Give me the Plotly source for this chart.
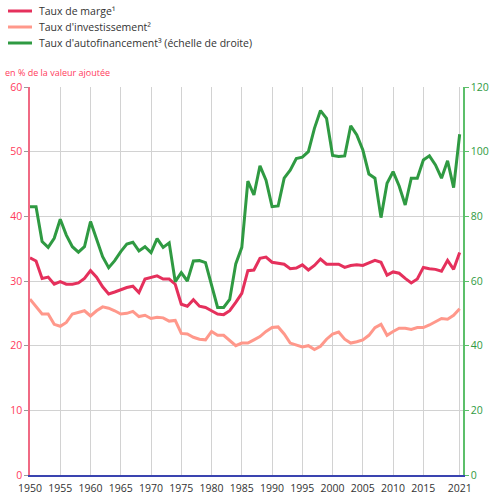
import plotly.graph_objects as go

years = list(range(1950, 2022))

taux_marge = [33.6, 33.1, 30.4, 30.6, 29.5, 29.9, 29.5, 29.5, 29.7, 30.4,
              31.6, 30.6, 29.1, 28.0, 28.3, 28.7, 29.0, 29.2, 28.2, 30.3,
              30.6, 30.8, 30.3, 30.3, 29.5, 26.4, 26.1, 27.1, 26.1, 25.9,
              25.4, 24.9, 24.8, 25.4, 26.7, 28.1, 31.6, 31.7, 33.5, 33.7,
              32.9, 32.7, 32.6, 31.9, 32.0, 32.5, 31.7, 32.4, 33.4, 32.6,
              32.6, 32.6, 32.1, 32.4, 32.5, 32.4, 32.8, 33.2, 32.9, 30.9,
              31.4, 31.2, 30.4, 29.7, 30.3, 32.1, 31.9, 31.8, 31.5, 33.2,
              31.8, 34.4]

taux_invest = [27.2, 26.0, 24.9, 24.9, 23.3, 23.0, 23.6, 24.9, 25.1, 25.4,
               24.6, 25.4, 26.0, 25.8, 25.4, 24.9, 25.0, 25.3, 24.5, 24.7,
               24.2, 24.4, 24.3, 23.8, 23.9, 21.9, 21.8, 21.3, 21.0, 20.9,
               22.2, 21.6, 21.6, 20.8, 20.0, 20.4, 20.4, 20.9, 21.4, 22.2,
               22.8, 22.9, 21.8, 20.4, 20.1, 19.8, 20.0, 19.4, 19.9, 21.0,
               21.8, 22.1, 21.0, 20.4, 20.6, 20.9, 21.6, 22.8, 23.3, 21.6,
               22.2, 22.7, 22.7, 22.5, 22.8, 22.8, 23.2, 23.7, 24.2, 24.1,
               24.7, 25.7]

taux_autofin = [83.0, 83.0, 72.2, 70.4, 73.2, 79.1, 74.2, 70.6, 68.9, 70.6,
                78.4, 72.7, 67.5, 64.1, 66.3, 69.1, 71.4, 72.0, 69.3, 70.6,
                68.8, 73.1, 70.4, 71.8, 59.8, 62.6, 60.0, 66.2, 66.3, 65.7,
                58.8, 51.8, 51.8, 54.3, 65.3, 70.4, 90.9, 86.6, 95.6, 91.2,
                83.0, 83.2, 91.8, 94.3, 97.9, 98.3, 100.0, 107.2, 112.7, 110.3,
                98.8, 98.5, 98.7, 108.0, 105.2, 100.5, 93.1, 91.8, 79.6, 90.2,
                93.8, 89.4, 83.5, 91.8, 91.8, 97.4, 98.7, 95.9, 91.8, 97.2,
                88.9, 105.4]

x_tickvals = [1950, 1955, 1960, 1965, 1970, 1975, 1980, 1985, 1990, 1995,
              2000, 2005, 2010, 2015, 2021]
x_ticktext = [str(v) for v in x_tickvals]

names = ["Taux de marge¹", "Taux d'investissement²",
         "Taux d'autofinancement³ (échelle de droite)"]

RED = "#e5305c"
SALMON = "#ff988b"
GREEN = "#2f9a42"
colors = [RED, SALMON, GREEN]

W, H = 489, 495
ML, MR, MT, MB = 30, 26, 87, 20
PW, PH = W - ML - MR, H - MT - MB


def px(x):
    return (x - ML) / PW


def py(y):
    return (H - MB - y) / PH


fig = go.Figure()
fig.add_trace(go.Scatter(x=years, y=taux_marge, name=names[0], mode="lines",
                         line=dict(color=RED, width=3)))
fig.add_trace(go.Scatter(x=years, y=taux_invest, name=names[1], mode="lines",
                         line=dict(color=SALMON, width=3)))
fig.add_trace(go.Scatter(x=years, y=taux_autofin, name=names[2], mode="lines",
                         line=dict(color=GREEN, width=3), yaxis="y2"))

fig.update_layout(
    width=W, height=H,
    margin=dict(l=ML, r=MR, t=MT, b=MB, autoexpand=False),
    paper_bgcolor="white", plot_bgcolor="white",
    font=dict(family="Open Sans", size=11, color="#333333"),
    showlegend=False,
    xaxis=dict(range=[1950, 2021.55], tickvals=x_tickvals, ticktext=x_ticktext,
               showgrid=True, gridcolor="#d2d2d2", gridwidth=1,
               showline=True, linecolor="#3a44b0", linewidth=1.5,
               ticks="outside", ticklen=3, tickcolor="rgba(0,0,0,0)",
               tickfont=dict(size=10.5, color="#333333"), zeroline=False),
    yaxis=dict(range=[0, 60], tickvals=[0, 10, 20, 30, 40, 50, 60],
               showgrid=True, gridcolor="#d2d2d2", gridwidth=1,
               showline=True, linecolor="#f06a84", linewidth=1.5,
               ticks="outside", ticklen=4, tickcolor="#999999",
               tickfont=dict(size=10.5, color="#ff3b5c"), zeroline=False),
    yaxis2=dict(range=[0, 120], tickvals=[0, 20, 40, 60, 80, 100, 120],
                overlaying="y", side="right", showgrid=False,
                showline=True, linecolor="#5cbf6a", linewidth=1.5,
                ticks="outside", ticklen=4, tickcolor="#5cbf6a",
                tickfont=dict(size=10.5, color="#2f9a42"), zeroline=False),
)

# manual legend
leg_y = [11, 27, 43]
for name, c, yy in zip(names, colors, leg_y):
    fig.add_shape(type="line", xref="paper", yref="paper",
                  x0=px(8), x1=px(32), y0=py(yy), y1=py(yy),
                  line=dict(color=c, width=3))
    fig.add_annotation(text=name, xref="paper", yref="paper",
                       x=px(37), y=py(yy), xanchor="left", yanchor="middle",
                       showarrow=False, font=dict(size=10.5, color="#333333"))

fig.add_annotation(text="en % de la valeur ajoutée", xref="paper", yref="paper",
                   x=px(3), y=py(73), xanchor="left", yanchor="middle",
                   showarrow=False, font=dict(size=9, color="#ff3b5c"))

fig.write_html("out.html", config={"displayModeBar": False},
               post_script="document.body.style.margin='0';document.body.style.padding='0';")
